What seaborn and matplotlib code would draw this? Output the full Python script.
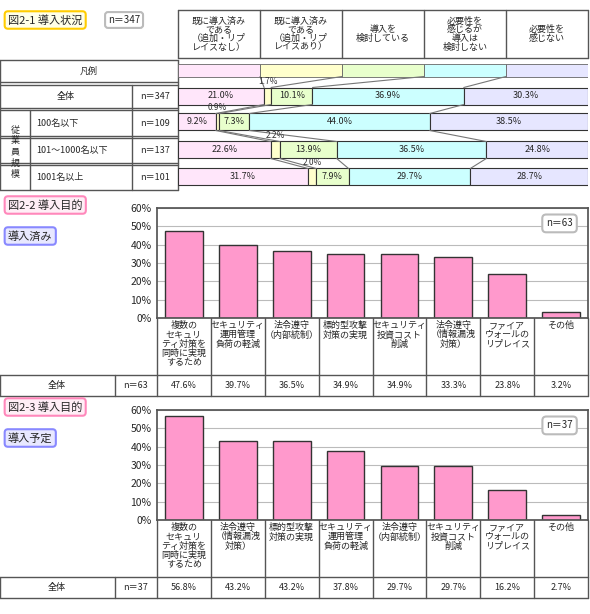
import matplotlib
matplotlib.use("Agg")
import matplotlib.pyplot as plt
import seaborn as sns
import numpy as np
import pandas as pd

sns.set_theme(style="white")
plt.rcParams['font.family'] = ['Noto Sans CJK JP', 'DejaVu Sans']

# ---- data ----
status_cols = ["既に導入済み\nである\n（追加・リプ\nレイスなし）", "既に導入済み\nである\n（追加・リプ\nレイスあり）",
               "導入を\n検討している", "必要性を\n感じるが\n導入は\n検討しない", "必要性を\n感じない"]
status_colors = ["#ffe6fa", "#ffffcc", "#e8ffcc", "#ccffff", "#e6e6ff"]
status_rows = ["全体", "100名以下", "101～1000名以下", "1001名以上"]
status_n = ["n＝347", "n＝109", "n＝137", "n＝101"]
status_all = [21.0, 1.7, 10.1, 36.9, 30.3]
status_100 = [9.2, 0.9, 7.3, 44.0, 38.5]
status_1000 = [22.6, 2.2, 13.9, 36.5, 24.8]
status_1001 = [31.7, 2.0, 7.9, 29.7, 28.7]

cats2 = ["複数の\nセキュリ\nティ対策を\n同時に実現\nするため", "セキュリティ\n運用管理\n負荷の軽減", "法令遵守\n（内部統制）",
         "標的型攻撃\n対策の実現", "セキュリティ\n投資コスト\n削減", "法令遵守\n（情報漏洩\n対策）", "ファイア\nウォールの\nリプレイス", "その他"]
vals2 = [47.6, 39.7, 36.5, 34.9, 34.9, 33.3, 23.8, 3.2]
cats3 = ["複数の\nセキュリ\nティ対策を\n同時に実現\nするため", "法令遵守\n（情報漏洩\n対策）", "標的型攻撃\n対策の実現",
         "セキュリティ\n運用管理\n負荷の軽減", "法令遵守\n（内部統制）", "セキュリティ\n投資コスト\n削減", "ファイア\nウォールの\nリプレイス", "その他"]
vals3 = [56.8, 43.2, 43.2, 37.8, 29.7, 29.7, 16.2, 2.7]

W, H = 590, 614
fig = plt.figure(figsize=(W/100, H/100), dpi=100)
ov = fig.add_axes([0, 0, 1, 1])
ov.set_xlim(0, W); ov.set_ylim(H, 0); ov.axis("off")
FS = 6.5

def box(x, y, s, ec, fc, fs=8):
    ov.text(x, y, s, fontsize=fs, va="center", ha="left",
            bbox=dict(boxstyle="round,pad=0.3", ec=ec, fc=fc, lw=1.5), zorder=5)

def hline(x0, x1, y, lw=1, c="#555"):
    ov.plot([x0, x1], [y, y], color=c, lw=lw)

def vline(x, y0, y1, lw=1, c="#555"):
    ov.plot([x, x], [y0, y1], color=c, lw=lw)

def ax_at(x0, y0, x1, y1):
    return fig.add_axes([x0/W, 1-y1/H, (x1-x0)/W, (y1-y0)/H])

# ---- section 1 ----
box(8, 20, "図2-1 導入状況", "#ffcc00", "#ffffe8")
box(108, 20, "n＝347", "#bbbbbb", "white", fs=7)
X0, X1 = 178, 588
colx = np.linspace(X0, X1, 6)
hline(X0, X1, 10); hline(X0, X1, 58)
for i, c in enumerate(status_cols):
    vline(colx[i], 10, 58)
    ov.text((colx[i]+colx[i+1])/2, 34, c, fontsize=FS, ha="center", va="center", linespacing=0.95)
vline(X1, 10, 58)
rows_y = [(60, 82), (85, 108), (110, 136), (138, 163), (165, 190)]
for (a, b) in rows_y:
    hline(0, X0, a); hline(0, X0, b)
vline(X0, 60, 190); vline(0, 60, 190)
vline(132, 85, 190); vline(30, 110, 190)
ov.text(89, 71, "凡例", fontsize=FS, ha="center", va="center")
ov.text(66, 96, status_rows[0], fontsize=FS, ha="center", va="center")
for i, r in enumerate(status_rows[1:]):
    a, b = rows_y[i+2]
    ov.text(36, (a+b)/2, r, fontsize=FS, ha="left", va="center")
for i, n in enumerate(status_n):
    a, b = rows_y[i+1]
    ov.text(155, (a+b)/2, n, fontsize=FS, ha="center", va="center")
for k, ch in enumerate("従業員規模"):
    ov.text(15, 130 + k*11, ch, fontsize=FS, ha="center", va="center")

ax1 = ax_at(X0, 58, X1, 192)
ax1.set_xlim(0, 100); ax1.set_ylim(192, 58); ax1.axis("off")
data1 = [status_all, status_100, status_1000, status_1001]
centers = [96, 122, 150, 177]
bh = 17
ax1.barh([70]*5, [20]*5, left=[0, 20, 40, 60, 80], height=13, color=status_colors, edgecolor="#666", lw=0.6)
prev = [20*k for k in range(1, 5)]
prev_y = 70 + 13/2
for row, cy in zip(data1, centers):
    left = np.concatenate([[0], np.cumsum(row)[:-1]])
    ax1.barh([cy]*5, row, left=left, height=bh, color=status_colors, edgecolor="#333", lw=0.8)
    cum = np.cumsum(row)[:-1]
    for p, c in zip(prev, cum):
        ax1.plot([p, c], [prev_y, cy-bh/2], color="#777", lw=0.8)
    prev = cum; prev_y = cy + bh/2
    for k, (l, v) in enumerate(zip(left, row)):
        if k == 1:
            ax1.text(l + v/2, cy-bh/2-1, f"{v:.1f}%", fontsize=FS-0.5, ha="center", va="bottom", color="#333")
        else:
            ax1.text(l + v/2, cy, f"{v:.1f}%", fontsize=FS, ha="center", va="center")

# ---- bar sections ----
def bar_section(top, cats, vals, title, sub, n):
    box(8, top-3, title, "#ff88bb", "#ffeef6")
    box(8, top+28, sub, "#8888ff", "#e8e8ff")
    y60, y0 = top, top+110
    ax = ax_at(157, y60, 588, y0)
    df = pd.DataFrame({"cat": range(len(cats)), "v": vals})
    sns.barplot(data=df, x="cat", y="v", color="#ff99cc", saturation=1, width=0.7,
                edgecolor="#333", linewidth=1, ax=ax)
    ax.set_ylim(0, 60); ax.set_xlim(-0.5, len(cats)-0.5)
    ax.set_yticks(range(0, 61, 10)); ax.set_yticklabels([f"{t}%" for t in range(0, 61, 10)], fontsize=7.5)
    ax.set_xticks([]); ax.set_xlabel(""); ax.set_ylabel("")
    ax.yaxis.grid(True, color="#bbb", lw=0.8); ax.set_axisbelow(True)
    for s in ax.spines.values(): s.set_color("#555")
    ax.tick_params(axis="y", length=0, pad=4)
    ax.text(0.965, 0.86, n, transform=ax.transAxes, fontsize=7, ha="right", va="center",
            bbox=dict(boxstyle="round,pad=0.4", ec="#bbb", fc="white", lw=1.5))
    cw = (588-157)/len(cats)
    lb0, lb1, rb = y0, y0+57, y0+78
    hline(0, 588, lb1); hline(0, 588, rb)
    vline(0, lb1, rb); vline(115, lb1, rb); vline(157, lb1, rb)
    for i, (c, v) in enumerate(zip(cats, vals)):
        xl = 157 + i*cw
        vline(xl+cw, lb0, rb)
        ov.text(xl+cw/2, lb0+3, c, fontsize=FS, ha="center", va="top", linespacing=1.05)
        ov.text(xl+cw/2, (lb1+rb)/2, f"{v:.1f}%", fontsize=FS, ha="center", va="center")
    vline(157, lb0, lb1)
    ov.text(57, (lb1+rb)/2, "全体", fontsize=FS, ha="center", va="center")
    ov.text(136, (lb1+rb)/2, n, fontsize=FS, ha="center", va="center")

bar_section(208, cats2, vals2, "図2-2 導入目的", "導入済み", "n＝63")
bar_section(410, cats3, vals3, "図2-3 導入目的", "導入予定", "n＝37")

fig.savefig("out.png", dpi=100)
